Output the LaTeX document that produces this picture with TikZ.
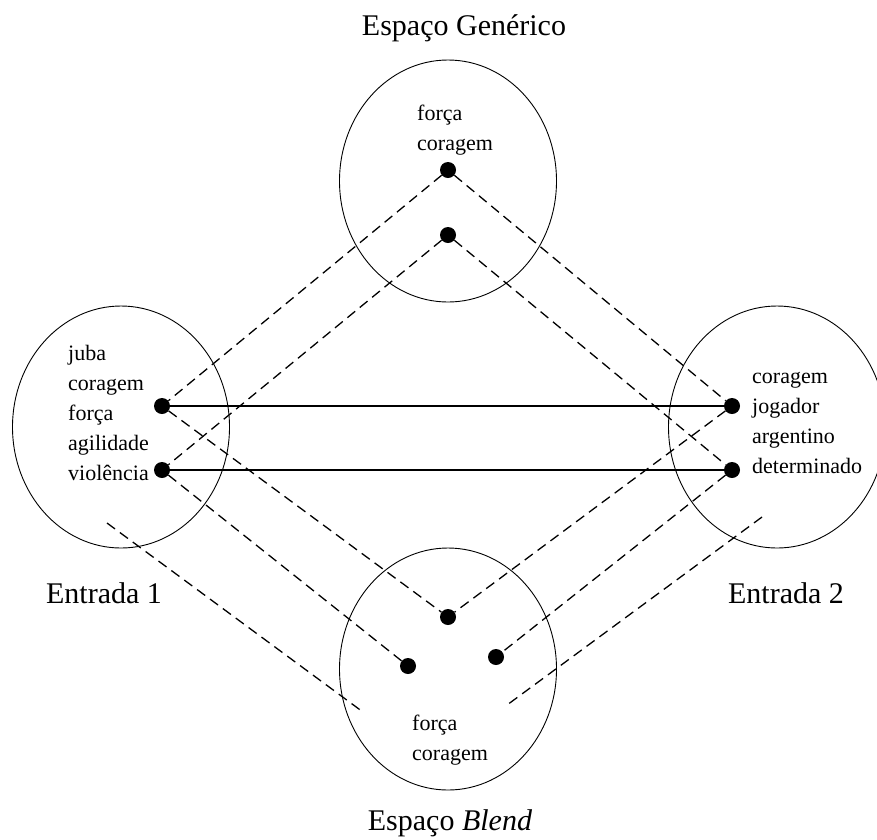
\documentclass[tikz,border=0pt]{standalone}
\usepackage{fontspec}
\setmainfont{LiberationSerif}[Extension=.ttf,UprightFont=*-Regular,ItalicFont=*-Italic,BoldFont=*-Bold]
\usetikzlibrary{shapes.geometric}

\begin{document}
\begin{tikzpicture}[x=1pt,y=-1pt,
    space/.style={ellipse,draw,line width=0.9pt,minimum width=217pt,minimum height=242pt},
    dot/.style={circle,fill,inner sep=0pt,minimum size=16pt},
    words/.style={align=left,anchor=north west,inner sep=0pt,font=\fontsize{22}{30}\selectfont},
    title/.style={anchor=base,inner sep=0pt,font=\fontsize{30}{36}\selectfont},
    link/.style={line width=1.1pt},
    map/.style={line width=1.3pt,dash pattern=on 10pt off 6pt}]
    \useasboundingbox (0,0) rectangle (877,839);
    \clip (0,0) rectangle (877,839);

    % espacos
    \node[space] (gen) at (448,181) {};
    \node[space] (in1) at (121,427) {};
    \node[space] (in2) at (777,427) {};
    \node[space] (bld) at (448,669) {};

    \node[title] (tgen) at (464,35) {Espaço Genérico};
    \node[title] (tin1) at (104,603) {Entrada 1};
    \node[title] (tin2) at (786,603) {Entrada 2};
    \node[title] (tbld) at (450,830) {Espaço \textit{Blend}};

    \node[words] (wgen) at (417,105) {força\\coragem};
    \node[words] (win1) at (68,345) {juba\\coragem\\força\\agilidade\\violência};
    \node[words] (win2) at (752,372) {coragem\\jogador\\argentino\\determinado};
    \node[words] (wbld) at (412,715) {força\\coragem};

    % pontos
    \node[dot] (g1) at (448,170) {};
    \node[dot] (g2) at (448,235) {};
    \node[dot] (a1) at (162,406) {};
    \node[dot] (a2) at (162,470) {};
    \node[dot] (b1) at (732,406) {};
    \node[dot] (b2) at (732,470) {};
    \node[dot] (c1) at (448,617) {};
    \node[dot] (c2) at (408,666) {};
    \node[dot] (c3) at (496,657) {};

    \coordinate (e1) at (107,523);
    \coordinate (f1) at (363,712);
    \coordinate (e2) at (762,517);
    \coordinate (f2) at (507,705);

    \path[link]
        (a1) edge (b1)
        (a2) edge (b2)
        ;
    \path[map]
        (g1) edge (a1)
        (g2) edge (a2)
        (g1) edge (b1)
        (g2) edge (b2)
        (a1) edge (c1)
        (a2) edge (c2)
        (b1) edge (c1)
        (b2) edge (c3)
        (e1) edge (f1)
        (e2) edge (f2)
        ;
\end{tikzpicture}
\end{document}
